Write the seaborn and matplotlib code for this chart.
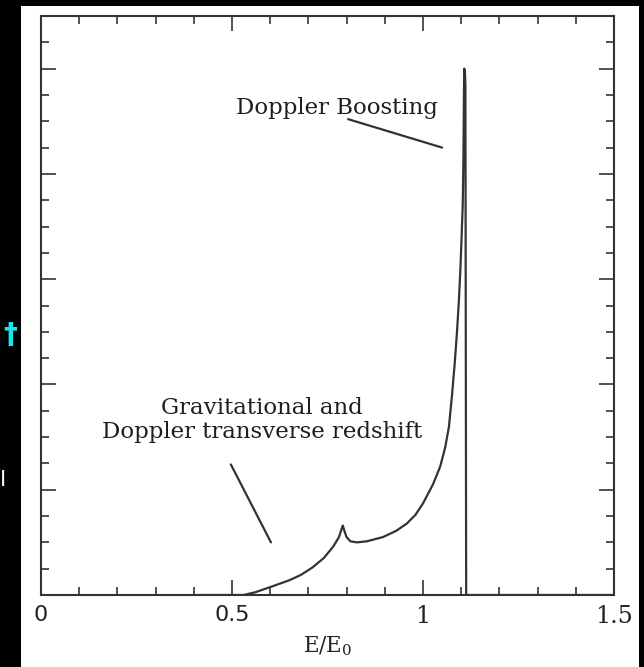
import numpy as np
import pandas as pd
import matplotlib
matplotlib.use("Agg")
import matplotlib.pyplot as plt
import seaborn as sns
from matplotlib.patches import Rectangle
from matplotlib.ticker import MultipleLocator

# line profile (E/E0, relative flux)
energy = [0.41, 0.53, 0.56, 0.60, 0.65, 0.68, 0.71, 0.74, 0.765, 0.78, 0.79,
          0.795, 0.80, 0.81, 0.827, 0.853, 0.895, 0.93, 0.958, 0.98, 1.00,
          1.026, 1.045, 1.058, 1.068, 1.076, 1.083, 1.089, 1.094, 1.098,
          1.101, 1.104, 1.106, 1.107, 1.108, 1.110, 1.111, 1.113, 1.5]
flux = [0.0, 0.0, 0.025, 0.075, 0.14, 0.19, 0.26, 0.35, 0.46, 0.55, 0.66,
        0.60, 0.55, 0.51, 0.50, 0.51, 0.55, 0.61, 0.68, 0.76, 0.87,
        1.05, 1.22, 1.40, 1.60, 1.90, 2.20, 2.50, 2.80, 3.10,
        3.40, 3.70, 4.20, 4.70, 5.00, 4.95, 4.85, 0.0, 0.0]

x_ticks = [0, 0.5, 1, 1.5]
x_ticklabels = ["0", "0.5", "1", "1.5"]
x_label = "E/E$_\\mathregular{0}$"
boost_label = "Doppler Boosting"
redshift_label = "Gravitational and\nDoppler transverse redshift"

df = pd.DataFrame({"E": energy, "flux": flux})

sns.set_style("ticks")
plt.rcParams["font.family"] = ["DejaVu Serif", "DejaVu Sans"]
plt.rcParams["mathtext.fontset"] = "dejavuserif"

fig = plt.figure(figsize=(6.44, 6.67), dpi=100)
fig.patch.set_facecolor("black")
# white slide panel behind the plot
fig.patches.append(Rectangle((21 / 644, 0), 618 / 644, 661 / 667,
                             transform=fig.transFigure, facecolor="white",
                             edgecolor="none", zorder=-5))

ax = fig.add_axes([41 / 644, 1 - 595 / 667, 573 / 644, 579 / 667])
ax.set_zorder(2)
ax.set_facecolor("white")

ink = "#333333"
sns.lineplot(data=df, x="E", y="flux", sort=False, color=ink, lw=1.6,
             ax=ax, zorder=3)

ax.set_xlim(0, 1.5)
ax.set_ylim(0, 5.5)
ax.xaxis.set_major_locator(MultipleLocator(0.5))
ax.xaxis.set_minor_locator(MultipleLocator(0.1))
ax.yaxis.set_major_locator(MultipleLocator(1))
ax.yaxis.set_minor_locator(MultipleLocator(0.25))
ax.tick_params(which="both", direction="in", top=True, right=True,
               color=ink, width=1.2)
ax.tick_params(which="major", length=10.5)
ax.tick_params(which="minor", length=5.5)
ax.set_yticklabels([])
ax.set_xticks(x_ticks)
ax.set_xticklabels(x_ticklabels, color="#222222")
for lab, fam, fs in zip(ax.get_xticklabels(),
                        ["DejaVu Sans", "DejaVu Sans", "DejaVu Serif", "DejaVu Serif"],
                        [16, 16, 17, 17]):
    lab.set_family(fam)
    lab.set_fontsize(fs)
ax.tick_params(axis="x", pad=7)
for sp in ax.spines.values():
    sp.set_color(ink)
    sp.set_linewidth(1.5)
ax.set_xlabel(x_label, fontsize=15.5, color="#222222", labelpad=5)
ax.set_ylabel("")

ax.text(0.775, 4.63, boost_label, ha="center", va="center",
        fontsize=16.5, color="#1e1e1e")
ax.plot([0.804, 1.05], [4.52, 4.25], color=ink, lw=1.6)
ax.text(0.578, 1.66, redshift_label, ha="center", va="center",
        fontsize=16.5, color="#1e1e1e", linespacing=1.1)
ax.plot([0.497, 0.602], [1.24, 0.50], color=ink, lw=1.6)

# bits of the surrounding slide
fig.text(10 / 644, 1 - 335 / 667, "\u2020", color="#19e6ee", fontsize=20,
         fontweight="bold", ha="center", va="center", family="DejaVu Sans")
fig.text(0, 1 - 480 / 667, "l", color="white", fontsize=16,
         ha="left", va="center", family="DejaVu Sans")

fig.savefig("out.png", dpi=100, facecolor=fig.get_facecolor())
